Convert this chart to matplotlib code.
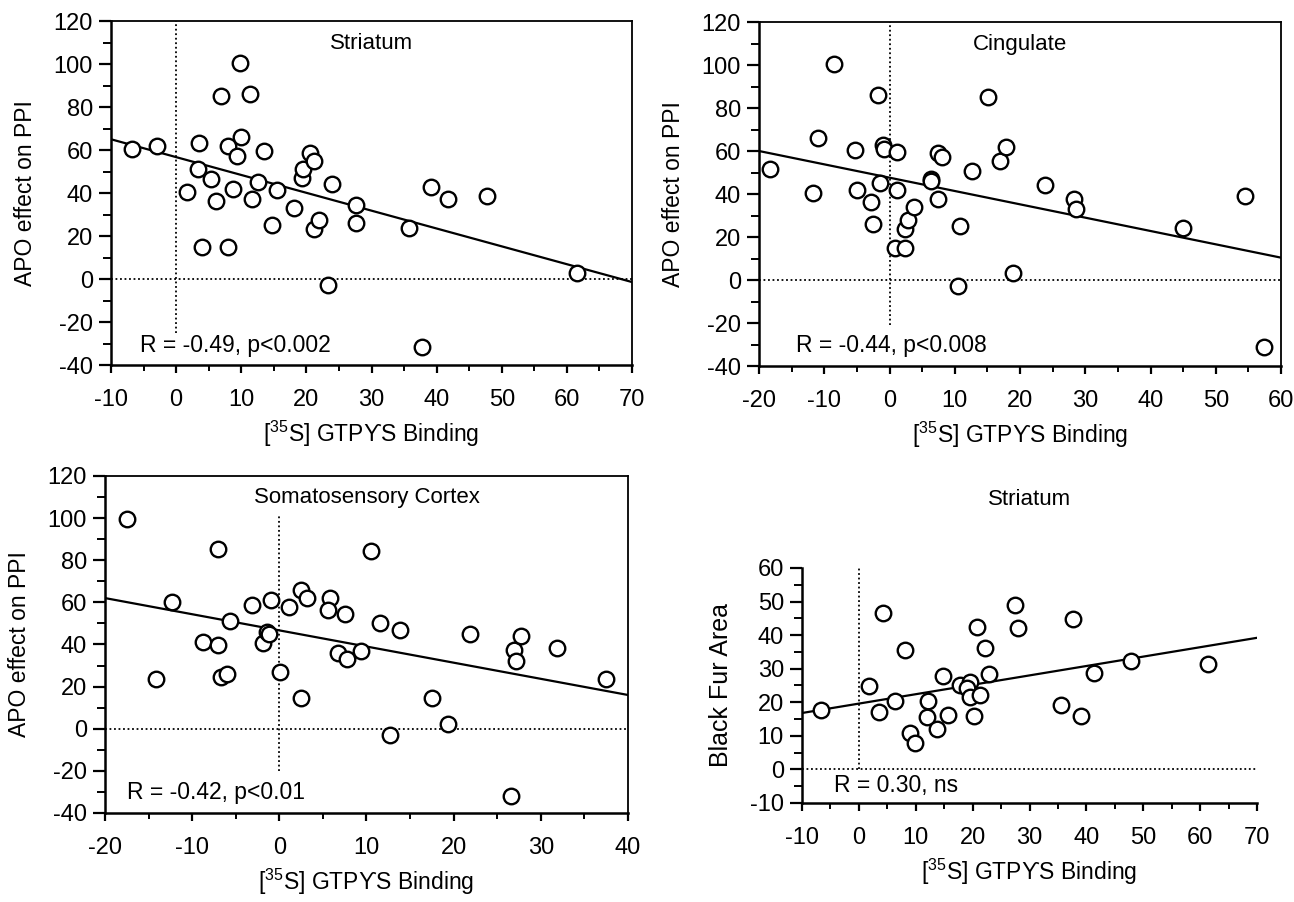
import matplotlib
matplotlib.use("Agg")
import matplotlib.pyplot as plt
from matplotlib.ticker import MultipleLocator
import numpy as np

plt.rcParams['font.family'] = ['Liberation Sans', 'DejaVu Sans']
plt.rcParams['mathtext.default'] = 'regular'
plt.rcParams['mathtext.fallback'] = 'stixsans'
plt.rcParams['axes.unicode_minus'] = False

# Values
striatum_x = [-6.8, -2.9, 3.5, 3.3, 1.7, 5.3, 4.0, 6.1, 6.9, 7.9, 8.8, 8.0, 9.8, 9.9, 9.4,
              11.4, 11.7, 12.5, 13.5, 14.7, 15.5, 18.1, 19.3, 19.5, 20.6, 21.2, 21.1, 21.9,
              23.9, 23.3, 27.6, 27.6, 35.7, 37.7, 39.1, 41.7, 47.7, 61.5]
striatum_y = [60.3, 61.7, 63.1, 51.3, 40.5, 46.4, 15.0, 36.3, 85.1, 61.9, 42.0, 15.0, 100.6, 66.2, 57.2,
              86.2, 37.1, 45.1, 59.5, 25.0, 41.4, 33.0, 47.1, 51.0, 58.4, 54.9, 23.1, 27.4,
              44.0, -2.9, 34.3, 26.2, 23.9, -31.5, 42.9, 37.4, 38.6, 2.9]

cingulate_x = [-18.4, -11.7, -10.9, -8.5, -5.3, -5.0, -2.8, -2.5, -1.7, -1.0, -0.8, -1.4, 1.2, 1.2,
               0.8, 2.4, 2.3, 2.8, 3.8, 6.3, 6.4, 7.4, 8.1, 7.5, 10.8, 10.5, 12.6, 15.1, 17.0,
               17.9, 18.9, 23.8, 28.2, 28.6, 44.9, 54.5, 57.4]
cingulate_y = [51.5, 40.3, 66.2, 100.3, 60.5, 41.7, 36.3, 25.9, 86.2, 62.8, 61.0, 45.3, 59.5, 41.9,
               15.0, 15.0, 23.6, 27.9, 34.1, 46.8, 46.0, 59.2, 57.4, 37.5, 25.1, -2.8, 50.7, 85.1, 55.3,
               61.9, 3.1, 44.2, 37.8, 33.2, 24.3, 39.1, -31.0]

somato_x = [-17.5, -14.2, -12.3, -8.7, -7.0, -7.0, -6.7, -6.0, -5.6, -3.1, -1.9, -1.4, -1.2, -0.9,
            0.1, 1.1, 2.5, 3.2, 2.5, 5.8, 5.6, 7.5, 6.7, 7.8, 9.4, 10.5, 11.6, 13.8, 12.7, 17.5,
            19.4, 21.9, 26.9, 27.1, 27.7, 26.6, 31.9, 37.5]
somato_y = [99.6, 23.4, 60.2, 41.3, 85.5, 39.9, 24.6, 26.0, 51.0, 58.9, 40.5, 45.9, 44.8, 61.2,
            26.9, 57.9, 66.0, 62.0, 14.6, 62.0, 56.6, 54.5, 35.9, 33.3, 36.9, 84.3, 50.2, 46.8, -3.2, 14.6,
            2.3, 44.8, 37.5, 32.3, 43.8, -31.9, 38.4, 23.8]

fur_x = [-6.7, 1.8, 3.5, 4.2, 6.4, 8.1, 8.9, 9.8, 12.2, 11.9, 13.7, 14.8, 15.7, 17.8, 19.5,
         19.0, 19.5, 20.2, 20.7, 21.3, 22.1, 22.9, 27.5, 28.0, 35.5, 37.7, 39.0, 41.4, 47.9, 61.4]
fur_y = [17.6, 24.9, 17.1, 46.7, 20.4, 35.5, 10.9, 7.8, 20.5, 15.5, 12.1, 27.9, 16.3, 25.1, 26.1,
         24.2, 21.7, 15.8, 42.5, 22.2, 36.2, 28.4, 49.0, 42.0, 19.3, 44.8, 15.8, 28.6, 32.3, 31.5]

# regression lines as drawn (slope, intercept)
fit_slope = [-0.83, -0.62, -0.767, 0.28]
fit_intercept = [56.7, 47.6, 46.7, 19.6]

panel_titles = ["Striatum", "Cingulate", "Somatosensory Cortex", "Striatum"]
stat_texts = ["R = -0.49, p<0.002", "R = -0.44, p<0.008", "R = -0.42, p<0.01", "R = 0.30, ns"]
xlabel_text = "[$^{35}$S] GTP\u03d2S Binding"


def draw_panel(ax, xs, ys, k, xlim, ylim, xstep, ystep, vline_span, title_y,
               stat_pos, ylabel, ylabel_size, box=True):
    # dotted reference lines at zero
    ax.axhline(0, color='k', ls=(0, (1, 1.5)), lw=1.3, zorder=1)
    ax.vlines(0, vline_span[0], vline_span[1], color='k', ls=(0, (1, 1.5)), lw=1.3, zorder=1)

    # fitted line across the whole x range
    xf = np.array(xlim, dtype=float)
    ax.plot(xf, fit_slope[k] * xf + fit_intercept[k], color='k', lw=1.6, zorder=2)

    ax.scatter(xs, ys, s=125, facecolors='white', edgecolors='k', linewidths=1.7, zorder=3)

    ax.set_xlim(xlim)
    ax.set_ylim(ylim)
    ax.xaxis.set_major_locator(MultipleLocator(xstep))
    ax.xaxis.set_minor_locator(MultipleLocator(xstep / 2))
    ax.yaxis.set_major_locator(MultipleLocator(ystep))
    ax.yaxis.set_minor_locator(MultipleLocator(ystep / 2))
    ax.tick_params(axis='x', which='major', direction='out', length=6, width=1.6, labelsize=17, pad=11)
    ax.tick_params(axis='x', which='minor', direction='out', length=4, width=1.4)
    ax.tick_params(axis='y', which='major', direction='out', length=9, width=1.6, labelsize=17, pad=4)
    ax.tick_params(axis='y', which='minor', direction='out', length=6, width=1.4)

    for side in ['left', 'bottom']:
        ax.spines[side].set_linewidth(1.8)
    for side in ['top', 'right']:
        if box:
            ax.spines[side].set_linewidth(1.3)
        else:
            ax.spines[side].set_visible(False)

    ax.text(0.5, title_y, panel_titles[k], transform=ax.transAxes, ha='center', va='center', fontsize=16)
    ax.text(stat_pos[0], stat_pos[1], stat_texts[k], ha='left', va='center', fontsize=16.5)
    ax.set_ylabel(ylabel, fontsize=ylabel_size, labelpad=12)
    ax.set_xlabel(xlabel_text, fontsize=16.5, labelpad=6)


fig = plt.figure(figsize=(12.94, 9.02), dpi=100)

ax1 = fig.add_axes([0.0858, 0.5953, 0.4026, 0.3814])
draw_panel(ax1, striatum_x, striatum_y, 0, (-10, 70), (-40, 120), 10, 20, (-25, 120), 0.936,
           (-5.5, -31), "APO effect on PPI", 16.5)

ax2 = fig.add_axes([0.5866, 0.5942, 0.4034, 0.3814])
draw_panel(ax2, cingulate_x, cingulate_y, 1, (-20, 60), (-40, 120), 10, 20, (-21, 120), 0.936,
           (-14.3, -30.5), "APO effect on PPI", 16.5)

ax3 = fig.add_axes([0.0811, 0.0987, 0.4042, 0.3736])
draw_panel(ax3, somato_x, somato_y, 2, (-20, 40), (-40, 120), 10, 20, (-20, 102), 0.935,
           (-17.5, -30.3), "APO effect on PPI", 16.5)

ax4 = fig.add_axes([0.6198, 0.1098, 0.3516, 0.2605])
draw_panel(ax4, fur_x, fur_y, 3, (-10, 70), (-10, 60), 10, 10, (0, 60), 1.29,
           (-4.4, -4.8), "Black Fur Area", 18, box=False)

fig.savefig("out.png", dpi=100)
